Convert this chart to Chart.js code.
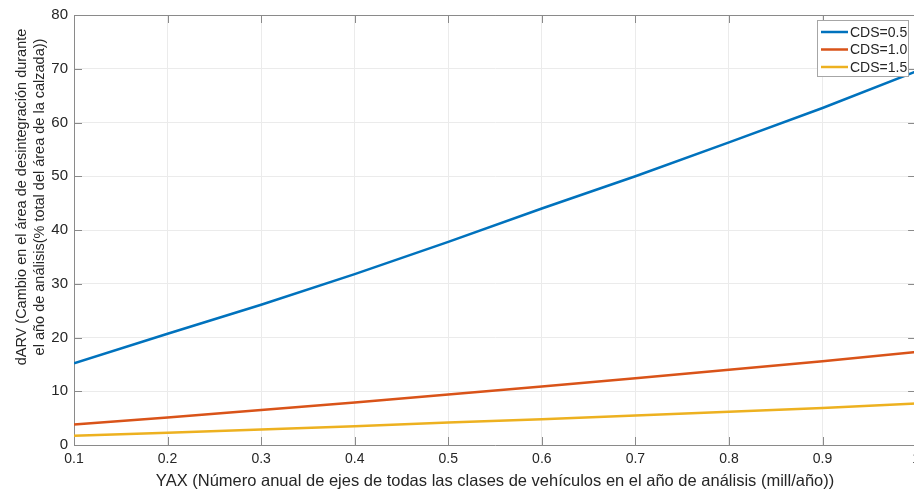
<!DOCTYPE html>
<html>
<head>
<meta charset="utf-8">
<script src="https://cdn.jsdelivr.net/npm/chart.js@4/dist/chart.umd.min.js"></script>
<style>
  html, body { margin: 0; padding: 0; background: #fff; overflow: hidden; }
  #wrap { width: 926px; height: 491px; }
</style>
</head>
<body>
<div id="wrap"><canvas id="c"></canvas></div>
<script>
const YAX = [0.1, 0.2, 0.3, 0.4, 0.5, 0.6, 0.7, 0.8, 0.9, 1.0];
const CDS_05 = [15.2, 20.7, 26.1, 31.8, 37.8, 44.0, 50.0, 56.3, 62.7, 69.5];
const CDS_10 = [3.8, 5.1, 6.5, 7.9, 9.4, 10.9, 12.4, 14.0, 15.6, 17.3];
const CDS_15 = [1.7, 2.3, 2.9, 3.5, 4.2, 4.8, 5.5, 6.2, 6.9, 7.7];
const SERIES_LABELS = ["CDS=0.5", "CDS=1.0", "CDS=1.5"];
const X_TITLE = "YAX (Número anual de ejes de todas las clases de vehículos en el año de análisis (mill/año))";
const Y_TITLE = ["dARV (Cambio en el área de desintegración durante", "el año de análisis(% total del área de la calzada))"];

const COLORS = ["#0072BD", "#D95319", "#EDB120"];
const AXIS = "#8a8a8a";
const GRID = "#ebebeb";
const TEXT = "#262626";
const FONT = "'Liberation Sans', Arial, sans-serif";

const pts = (ys) => YAX.map((x, i) => ({ x, y: ys[i] }));

// MATLAB-like frame: top/right lines, inward ticks, legend box, y title
const matlabFrame = {
    id: "matlabFrame",
    afterDraw(chart) {
        const { ctx, chartArea: a, scales } = chart;
        ctx.save();
        ctx.strokeStyle = AXIS;
        ctx.lineWidth = 1;
        ctx.beginPath();
        ctx.moveTo(a.left, a.top + 0.5);
        ctx.lineTo(a.right, a.top + 0.5);
        ctx.moveTo(a.right - 0.5, a.top);
        ctx.lineTo(a.right - 0.5, a.bottom);
        const t = 8;
        scales.x.ticks.forEach((tk) => {
            const px = Math.round(scales.x.getPixelForValue(tk.value)) + 0.5;
            ctx.moveTo(px, a.bottom);
            ctx.lineTo(px, a.bottom - t);
            ctx.moveTo(px, a.top);
            ctx.lineTo(px, a.top + t);
        });
        scales.y.ticks.forEach((tk) => {
            const py = Math.round(scales.y.getPixelForValue(tk.value)) + 0.5;
            ctx.moveTo(a.left, py);
            ctx.lineTo(a.left + t, py);
            ctx.moveTo(a.right, py);
            ctx.lineTo(a.right - t, py);
        });
        ctx.stroke();

        // y title
        ctx.fillStyle = TEXT;
        ctx.font = "14.5px " + FONT;
        ctx.textAlign = "center";
        ctx.textBaseline = "middle";
        ctx.translate(31, 197);
        ctx.rotate(-Math.PI / 2);
        ctx.fillText(Y_TITLE[0], 0, -9);
        ctx.fillText(Y_TITLE[1], 0, 9);
        ctx.restore();

        // legend
        ctx.save();
        const lx = 817, ly = 20, lw = 91, lh = 56;
        ctx.fillStyle = "#fff";
        ctx.fillRect(lx, ly, lw, lh);
        ctx.strokeStyle = "#a6a6a6";
        ctx.strokeRect(lx + 0.5, ly + 0.5, lw, lh);
        ctx.font = "14px " + FONT;
        ctx.textBaseline = "middle";
        ctx.textAlign = "left";
        chart.data.datasets.forEach((ds, i) => {
            const y = ly + 12 + i * 17.5;
            ctx.strokeStyle = ds.borderColor;
            ctx.lineWidth = 2.5;
            ctx.beginPath();
            ctx.moveTo(lx + 4, y);
            ctx.lineTo(lx + 31, y);
            ctx.stroke();
            ctx.fillStyle = TEXT;
            ctx.fillText(ds.label, lx + 33, y + 1);
        });
        ctx.restore();
    },
};

new Chart(document.getElementById("c"), {
    type: "line",
    data: {
        datasets: [CDS_05, CDS_10, CDS_15].map((ys, i) => ({
            label: SERIES_LABELS[i],
            data: pts(ys),
            borderColor: COLORS[i],
            backgroundColor: COLORS[i],
            borderWidth: 2.5,
            pointRadius: 0,
            tension: 0,
        })),
    },
    options: {
        responsive: true,
        maintainAspectRatio: false,
        animation: false,
        layout: { padding: { top: 13, right: 4, left: 0, bottom: 0 } },
        plugins: { legend: { display: false }, tooltip: { enabled: false } },
        scales: {
            x: {
                type: "linear",
                min: 0.1,
                max: 1.0,
                grid: { color: GRID, drawTicks: false },
                border: { color: AXIS },
                ticks: {
                    stepSize: 0.1,
                    color: TEXT,
                    padding: 6,
                    maxRotation: 0,
                    font: { family: FONT, size: 14 },
                    callback: (v) => String(+v.toFixed(1)),
                },
                title: {
                    display: true,
                    text: X_TITLE,
                    color: TEXT,
                    font: { family: FONT, size: 16.5 },
                    padding: { top: 1, bottom: 0 },
                },
                afterFit: (s) => { s.height = 46; },
            },
            y: {
                min: 0,
                max: 80,
                grid: { color: GRID, drawTicks: false },
                border: { color: AXIS },
                ticks: {
                    stepSize: 10,
                    color: TEXT,
                    padding: 6,
                    font: { family: FONT, size: 15 },
                },
                afterFit: (s) => { s.width = 74; },
            },
        },
    },
    plugins: [matlabFrame],
});
</script>
</body>
</html>
